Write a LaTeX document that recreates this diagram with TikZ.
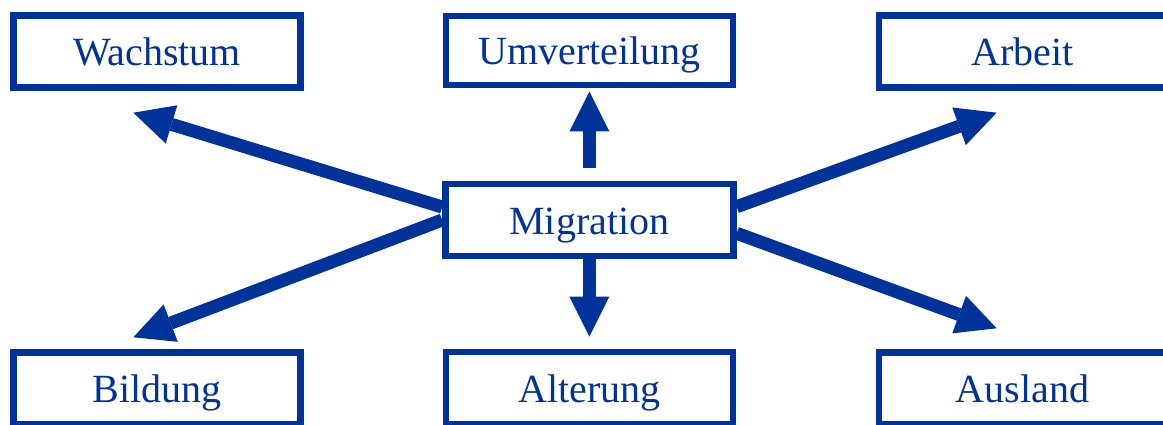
\documentclass[tikz,border=0pt]{standalone}
\usepackage{fontspec}
\setmainfont{Liberation Serif}
\usetikzlibrary{arrows.meta,calc}
\definecolor{mblue}{RGB}{0,51,153}
\begin{document}
\begin{tikzpicture}[x=1pt,y=-1pt,
  box/.style={draw=mblue, line width=6.5pt, fill=white, minimum width=287pt,
    minimum height=71.6pt, text=mblue, font=\fontsize{40}{48}\selectfont,
    text height=28.4pt, text depth=0pt, inner sep=0pt},
  arr/.style={draw=mblue, line width=13pt,
    -{Triangle[length=40pt,width=40pt,line width=0pt]}}]
\useasboundingbox (0,0) rectangle (1163,425);
\clip (0,0) rectangle (1163,425);
\fill[white] (0,0) rectangle (1163,425);
\node[box] (wach) at (157,51.5) {Wachstum};
\node[box, minimum height=69pt] (umv) at (589.4,50.4) {Umverteilung};
\node[box] (arb) at (1022.5,51.5) {Arbeit};
\node[box, minimum width=288pt, minimum height=72pt] (mig) at (589.4,220) {Migration};
\node[box] (bild) at (157,388.1) {Bildung};
\node[box] (alt) at (589.4,388) {Alterung};
\node[box] (ausl) at (1022.5,388.5) {Ausland};
\coordinate (tWach) at (133.3,112.7);
\coordinate (tBild) at (133.3,337.3);
\coordinate (tArb) at (996.7,112.7);
\coordinate (tAusl) at (996.7,328.3);
\draw[arr] ($(mig.west)+(0,-13)$) -- (tWach);
\draw[arr] (mig.west) -- (tBild);
\draw[arr] ($(mig.east)+(0,-13.3)$) -- (tArb);
\draw[arr] ($(mig.east)+(0,13.3)$) -- (tAusl);
\draw[arr, shorten <=13pt, shorten >=3.3pt] (mig.north) -- (umv.south);
\draw[arr, shorten >=12.3pt] (mig.south) -- (alt.north);
\end{tikzpicture}
\end{document}
